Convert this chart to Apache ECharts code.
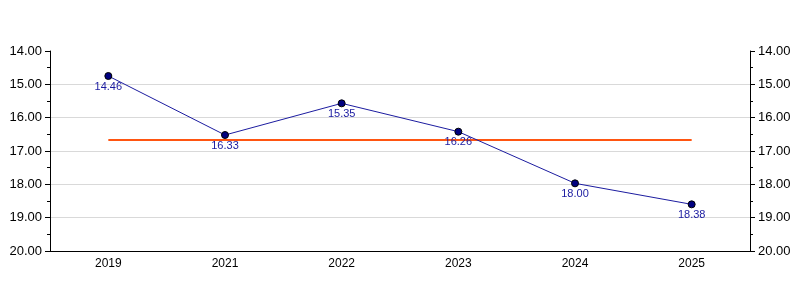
<!DOCTYPE html>
<html>
<head>
<meta charset="utf-8">
<script src="https://cdn.jsdelivr.net/npm/echarts@6/dist/echarts.min.js"></script>
<style>
html,body{margin:0;padding:0;background:#fff;}
#chart{width:800px;height:300px;}
</style>
</head>
<body>
<div id="chart"></div>
<script>
// 年份
var years = ['2019', '2021', '2022', '2023', '2024', '2025'];
// 点的位置
var values = [14.75, 16.52, 15.57, 16.42, 17.97, 18.60];
// 点下面显示的标签
var pointLabels = ['14.46', '16.33', '15.35', '16.26', '18.00', '18.38'];
// 橙色参考线
var refValue = 16.67;

var myChart = echarts.init(document.getElementById('chart'));

function yAxisCfg(pos) {
	return {
		type: 'value',
		position: pos,
		inverse: true,
		min: 14,
		max: 20,
		interval: 1,
		axisLine: { show: true, lineStyle: { color: '#000', width: 1 } },
		axisTick: { show: true, length: 5, lineStyle: { color: '#000' } },
		minorTick: { show: true, splitNumber: 2, length: 3, lineStyle: { color: '#000' } },
		axisLabel: {
			color: '#000',
			fontSize: 13,
			fontFamily: 'Liberation Sans, Arial, sans-serif',
			margin: 8,
			formatter: function (v) { return v.toFixed(2); }
		},
		splitLine: {
			show: pos === 'left',
			showMinLine: false,
			lineStyle: { color: '#d9d9d9', width: 1 }
		}
	};
}

var option = {
	animation: false,
	backgroundColor: '#fff',
	grid: { left: 50, right: 50, top: 51, bottom: 49 },
	xAxis: {
		type: 'category',
		data: years,
		boundaryGap: true,
		axisLine: { lineStyle: { color: '#000', width: 1 } },
		axisTick: { alignWithLabel: true, length: 5, lineStyle: { color: '#000' } },
		axisLabel: {
			color: '#000',
			fontSize: 12,
			fontFamily: 'Liberation Sans, Arial, sans-serif',
			margin: 7
		},
		splitLine: { show: false }
	},
	yAxis: [yAxisCfg('left'), yAxisCfg('right')],
	series: [{
		type: 'line',
		z: 3,
		data: values,
		symbol: 'circle',
		symbolSize: 7,
		lineStyle: { color: '#1c1ca0', width: 1 },
		itemStyle: { color: '#000080', borderColor: '#000', borderWidth: 1 },
		label: {
			show: true,
			position: 'bottom',
			distance: 1,
			color: '#1a1aa0',
			fontSize: 11,
			fontFamily: 'Liberation Sans, Arial, sans-serif',
			formatter: function (p) { return pointLabels[p.dataIndex]; }
		},
		markLine: {
			silent: true,
			z: 1,
			symbol: 'none',
			label: { show: false },
			lineStyle: { color: '#ff5511', width: 2, type: 'solid' },
			data: [[
				{ coord: [years[0], refValue] },
				{ coord: [years[years.length - 1], refValue] }
			]]
		}
	}]
};
myChart.setOption(option);
</script>
</body>
</html>
